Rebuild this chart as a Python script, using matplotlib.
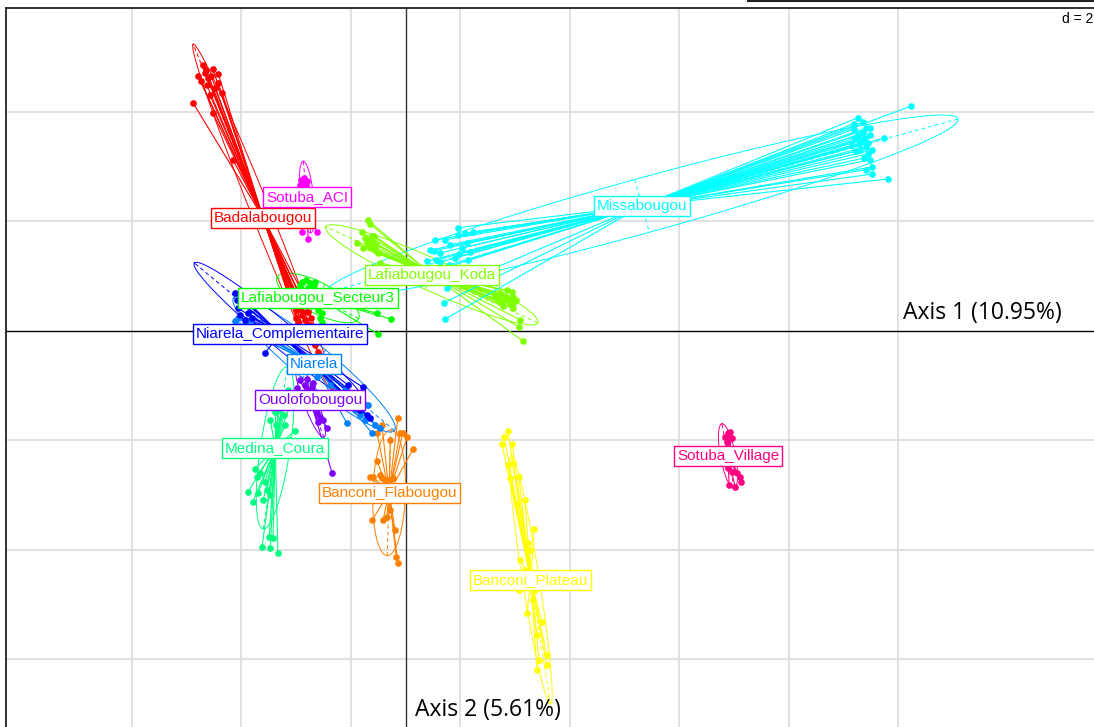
import numpy as np
import matplotlib
matplotlib.use("Agg")
import matplotlib.pyplot as plt
from matplotlib.collections import LineCollection

# populations in factor order, one rainbow colour each
groups = ["Badalabougou", "Banconi_Flabougou", "Banconi_Plateau", "Lafiabougou_Koda",
          "Lafiabougou_Secteur3", "Medina_Coura", "Missabougou", "Niarela",
          "Niarela_Complementaire", "Ouolofobougou", "Sotuba_ACI", "Sotuba_Village"]
colours = ["#FF0000", "#FF8000", "#FFFF00", "#80FF00", "#00FF00", "#00FF80",
           "#00FFFF", "#0080FF", "#0000FF", "#8000FF", "#FF00FF", "#FF0080"]

# group centres (where the labels sit)
centre_x = [-2.60, -0.30, 2.29, 0.48, -1.60, -2.38, 4.32, -1.67, -2.29, -1.74, -1.80, 5.89]
centre_y = [2.06, -2.96, -4.55, 1.02, 0.60, -2.14, 2.28, -0.61, -0.06, -1.27, 2.44, -2.29]

# individual scores on axes 1 and 2
badalabougou_x = [-3.70, -3.52, -3.42, -3.79, -3.74, -3.66, -3.61, -3.63, -3.42, -3.35, -3.88, -3.52, -3.15,
                  -3.64, -3.55, -3.48, -3.57,
                  -2.11, -2.05, -1.98, -1.93, -1.89, -1.84, -1.96, -1.78, -1.74, -1.85, -1.71, -1.82,
                  -1.65, -1.60, -1.93, -2.00, -1.73, -1.94, -1.87, -1.79, -1.76, -2.02]
badalabougou_y = [4.85, 4.78, 4.69, 4.65, 4.56, 4.71, 4.62, 4.49, 4.52, 4.34, 4.16, 3.98, 3.12,
                  4.76, 4.65, 4.43, 4.30,
                  0.56, 0.47, 0.38, 0.51, 0.29, 0.20, 0.16, 0.34, 0.10, 0.01, -0.08, -0.17,
                  -0.26, -0.39, 0.65, 0.23, 0.23, 0.41, 0.34, 0.10, 0.47, 0.56]

flabougou_x = [-0.14, -0.43, -0.52, -0.05, 0.03, -0.10, -0.28, 0.14, -0.52, -0.59, -0.34, -0.43, -0.23,
               -0.47, -0.65, -0.28, -0.61, -0.41, -0.34, -0.19, -0.17, -0.14, -0.37, -0.25, -0.47]
flabougou_y = [-1.59, -1.72, -1.87, -1.87, -1.94, -1.87, -2.00, -2.16, -2.38, -2.67, -2.73, -2.69, -2.69,
               -2.64, -2.67, -3.27, -3.46, -3.46, -3.40, -3.64, -4.13, -4.24, -3.09, -3.00, -2.91]

plateau_x = [1.87, 1.80, 1.76, 1.95, 1.87, 1.96, 2.07, 1.91, 2.18, 2.04, 2.35, 2.24, 2.27,
             2.27, 2.07, 2.33, 2.22, 2.49, 2.40, 2.58, 2.44, 2.58, 2.40, 2.09, 2.18, 2.37]
plateau_y = [-1.83, -1.94, -2.07, -2.07, -2.45, -2.42, -2.67, -2.69, -3.09, -3.15, -3.62, -3.88, -4.01,
             -4.55, -4.74, -4.92, -5.16, -5.32, -5.56, -5.92, -6.01, -6.11, -6.20, -4.19, -4.37, -4.74]

koda_x = [-0.68, -0.65, -0.61, -0.89, -0.78, -0.70, -0.65, -0.59, -0.56, -0.50, -0.47, -0.74, -0.54,
          -0.79, -0.67, -0.57,
          1.85, 1.95, 1.96, 1.87, 1.76, 1.96, 2.09, 2.07, 2.15, 1.63, 1.82, 1.91, 1.69, 2.02,
          1.73, 1.84, 1.99, 1.78]
koda_y = [2.02, 1.95, 1.73, 1.60, 1.51, 1.60, 1.53, 1.62, 1.47, 1.42, 1.24, 1.69, 1.57,
          1.80, 1.65, 1.73,
          0.74, 0.71, 0.62, 0.56, 0.52, 0.41, 0.20, 0.07, -0.19, 0.65, 0.63, 0.49, 0.56, 0.56,
          0.69, 0.59, 0.52, 0.45]

secteur3_x = [-1.89, -1.82, -1.74, -1.67, -1.78, -1.85, -1.71, -1.63, -1.56, -1.60, -1.53, -1.56, -1.53,
              -0.52, -0.26, -0.50, -1.93, -1.65]
secteur3_y = [0.89, 0.93, 0.87, 0.83, 0.78, 0.71, 0.74, 0.65, 0.56, 0.38, 0.32, 0.23, 0.16,
              0.32, 0.21, -0.06, 0.83, 0.89]

medina_x = [-2.02, -2.11, -2.20, -2.75, -2.71, -2.66, -2.88, -2.79, -2.60, -2.69, -2.53, -2.47, -2.57,
            -2.62, -2.47, -2.33, -2.49, -2.42, -2.38, -2.24, -2.47, -2.20, -2.15, -2.29, -2.11, -2.33,
            -2.22, -2.37]
medina_y = [-1.83, -2.00, -1.72, -2.53, -2.67, -2.60, -2.95, -3.13, -3.09, -2.96, -2.91, -3.00, -2.76,
            -3.95, -3.97, -4.06, -3.77, -3.79, -1.48, -1.30, -1.63, -1.17, -1.08, -1.27, -1.36, -1.45,
            -1.54, -1.72]

missabougou_x = [0.96, 0.54, 0.96, 1.09, 1.23, 0.45, 0.76, 0.70, 0.63, 1.12, 0.52, 0.56, 0.39,
                 0.47, 0.72, 0.98, 1.18, 0.79, 0.81, 1.03, 0.90, 0.63, 1.14, 0.72,
                 9.23, 8.19, 8.36, 8.36, 8.39, 8.74, 8.41, 8.45, 8.48, 8.52, 8.41, 8.52, 8.81,
                 8.19, 8.28, 8.23, 8.26, 8.48, 8.26, 8.34, 8.41, 8.30, 8.45, 8.21, 8.48, 8.37,
                 8.16, 8.52]
missabougou_y = [1.88, 1.66, 1.75, 1.78, 1.80, 1.47, 0.78, 0.51, 1.42, 1.60, 1.46, 1.29, 1.27,
                 1.07, 0.21, 1.40, 1.44, 1.20, 1.57, 1.51, 1.33, 1.25, 1.29, 1.66,
                 4.10, 3.78, 3.81, 3.61, 3.52, 3.52, 3.36, 3.23, 3.12, 2.99, 2.94, 2.86, 2.77,
                 3.68, 3.41, 3.28, 3.89, 3.70, 3.57, 3.48, 3.70, 3.30, 3.43, 3.52, 3.57, 3.15,
                 3.39, 3.30]

niarela_x = [-3.11, -3.02, -2.88, -1.62, -1.07, -0.61, -0.56, -0.47, -0.74, -1.01, -1.20, -0.92, -1.38,
             -0.83, -0.68, -1.10, -3.06, -2.93, -2.84]
niarela_y = [0.18, 0.05, -0.02, -0.85, -1.69, -1.87, -1.72, -1.78, -1.63, -1.27, -1.17, -1.45, -0.99,
             -1.54, -1.36, -1.08, 0.23, 0.12, 0.20]

complementaire_x = [-3.11, -3.08, -3.06, -2.93, -2.88, -2.99, -2.84, -3.02, -2.80, -2.95, -2.57,
                    -0.78, -0.83, -0.70, -0.65, -0.92, -1.05, -0.87]
complementaire_y = [0.69, 0.56, 0.41, 0.20, 0.32, 0.51, 0.47, 0.29, 0.23, 0.60, -0.41,
                    -1.03, -1.45, -1.54, -1.59, -1.17, -0.99, -1.27]

ouolofobougou_x = [-1.93, -1.80, -1.84, -1.71, -1.69, -1.98, -1.78, -1.62, -1.56, -1.51, -1.43, -1.60,
                   -1.34, -1.87, -1.65]
ouolofobougou_y = [-0.90, -0.88, -0.99, -1.03, -0.96, -1.05, -1.08, -1.50, -1.58, -1.63, -1.78, -1.67,
                   -2.60, -1.17, -1.36]

sotuba_aci_x = [-1.91, -1.85, -1.93, -1.82, -1.87, -1.80, -1.89, -1.89, -1.62, -1.78]
sotuba_aci_y = [2.75, 2.79, 2.66, 2.66, 2.61, 2.73, 2.70, 1.80, 1.80, 1.67]

sotuba_village_x = [5.89, 5.93, 5.84, 5.96, 5.87, 5.89, 5.96, 6.05, 6.11, 6.13, 5.91, 6.02]
sotuba_village_y = [-1.87, -1.85, -1.94, -1.96, -2.03, -2.51, -2.58, -2.60, -2.67, -2.76, -2.82, -2.85]

xs = [badalabougou_x, flabougou_x, plateau_x, koda_x, secteur3_x, medina_x,
      missabougou_x, niarela_x, complementaire_x, ouolofobougou_x, sotuba_aci_x, sotuba_village_x]
ys = [badalabougou_y, flabougou_y, plateau_y, koda_y, secteur3_y, medina_y,
      missabougou_y, niarela_y, complementaire_y, ouolofobougou_y, sotuba_aci_y, sotuba_village_y]

cellipse = 1.5
W, H = 1094, 727
fig = plt.figure(figsize=(W / 100, H / 100), dpi=100)
ax = fig.add_axes([6 / W, 0, 1 - 6 / W, (H - 8) / H])
ax.set_xlim(-7.297, 12.575)
ax.set_ylim(-7.238, 5.894)
ax.set_xticks([])
ax.set_yticks([])
for s in ["right", "bottom"]:
    ax.spines[s].set_visible(False)
for s in ["left", "top"]:
    ax.spines[s].set_linewidth(1.3)
    ax.spines[s].set_color("#222222")

# grid, d = 2
for gx in [-5, -3, -1, 1, 3, 5, 7, 9]:
    ax.axvline(gx, color="#DCDCDC", lw=1.2, zorder=0)
for gy in [4, 2, -2, -4, -6]:
    ax.axhline(gy, color="#DCDCDC", lw=1.2, zorder=0)
ax.axvline(0, color="#333333", lw=1.0, zorder=1)
ax.axhline(0, color="black", lw=1.0, zorder=1)

t = np.linspace(0, 2 * np.pi, 200)

# ellipses
for i in range(len(groups)):
    px = np.array(xs[i]); py = np.array(ys[i])
    cx, cy = centre_x[i], centre_y[i]
    dx = px - cx; dy = py - cy
    cov = np.array([[np.mean(dx * dx), np.mean(dx * dy)],
                    [np.mean(dx * dy), np.mean(dy * dy)]])
    vals, vecs = np.linalg.eigh(cov)
    a = cellipse * np.sqrt(vals[1]); b = cellipse * np.sqrt(vals[0])
    u = vecs[:, 1]; v = vecs[:, 0]
    ex = cx + a * np.cos(t) * u[0] + b * np.sin(t) * v[0]
    ey = cy + a * np.cos(t) * u[1] + b * np.sin(t) * v[1]
    ax.plot(ex, ey, color=colours[i], lw=0.7, zorder=2)
    ax.plot([cx - a * u[0], cx + a * u[0]], [cy - a * u[1], cy + a * u[1]],
            color=colours[i], lw=0.7, ls=(0, (4, 3)), zorder=2)
    ax.plot([cx - b * v[0], cx + b * v[0]], [cy - b * v[1], cy + b * v[1]],
            color=colours[i], lw=0.7, ls=(0, (4, 3)), zorder=2)

# stars from each individual to its group centre
for i in range(len(groups)):
    segs = [[(x, y), (centre_x[i], centre_y[i])] for x, y in zip(xs[i], ys[i])]
    ax.add_collection(LineCollection(segs, colors=colours[i], linewidths=0.8, zorder=3))

for i in range(len(groups)):
    ax.plot(xs[i], ys[i], "o", ms=4.8, color=colours[i], mec="none", zorder=4)

for i in range(len(groups)):
    ax.text(centre_x[i], centre_y[i], groups[i], color=colours[i], fontsize=11,
            family="Liberation Sans", ha="center", va="center", zorder=6,
            bbox=dict(boxstyle="square,pad=0.18", fc="white", ec=colours[i], lw=1.0))

ax.text(9.09, 0.10, "Axis 1 (10.95%)", fontsize=16.5, family="Open Sans",
        ha="left", va="bottom", zorder=7)
ax.text(0.17, -7.15, "Axis 2 (5.61%)", fontsize=16.5, family="Open Sans",
        ha="left", va="bottom", zorder=7)

fig.text(1 - 1 / W, 1 - 12 / H, "d = 2", fontsize=10, family="Liberation Sans",
         ha="right", va="top")
fig.add_artist(plt.Line2D([748 / W, 1], [1 - 0.8 / H, 1 - 0.8 / H], color="#222222",
                          lw=1.5, transform=fig.transFigure))

fig.savefig("out.png", dpi=100)
